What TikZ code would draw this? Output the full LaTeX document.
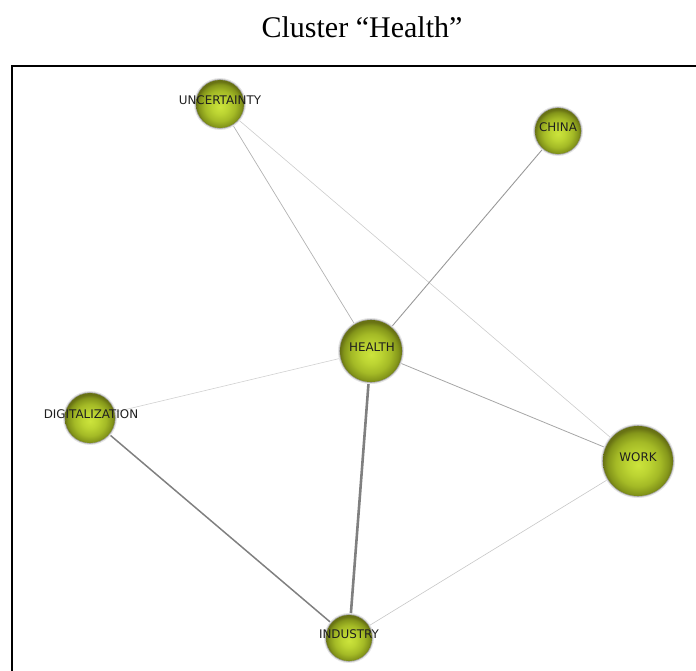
\documentclass[tikz,border=0pt]{standalone}
\usepackage{fontspec}
\setmainfont{Liberation Serif}
\newfontfamily\labelfont{DejaVu Sans}
\definecolor{ballhi}{RGB}{204,228,60}
\definecolor{ballmid}{RGB}{188,212,50}
\definecolor{ballouter}{RGB}{164,186,38}
\definecolor{balledge}{RGB}{132,150,26}
\definecolor{ballrim}{RGB}{104,114,20}
% the circle's edge lies at 25bp of the shading
\pgfdeclareradialshading{nodeball}{\pgfpoint{0bp}{-3bp}}{%
  color(0bp)=(ballhi); color(8bp)=(ballmid); color(16bp)=(ballouter);
  color(22bp)=(balledge); color(25bp)=(ballrim); color(50bp)=(ballrim)}
\tikzset{
  term/.style={circle, minimum size=#1, inner sep=0pt, shading=nodeball},
  halo/.style={fill=black!#1},
  tlabel/.style={font=\labelfont\fontsize{11.9}{12}\selectfont, text=black!88,
    inner sep=0pt, anchor=center},
  link/.style={line cap=round},
}
\begin{document}
\begin{tikzpicture}[x=1pt,y=-1pt]
\useasboundingbox (0,0) rectangle (696,671);
\node[font=\fontsize{30}{34}\selectfont] (title) at (362,27) {Cluster “Health”};
\begin{scope}
  \clip (0,0) rectangle (696,671);
  \draw[line width=2pt] (12,690) -- (12,66) -- (710,66);
\end{scope}
% term positions
\coordinate (cU) at (220,104);
\coordinate (cC) at (558,131);
\coordinate (cH) at (371,351);
\coordinate (cD) at (90,418);
\coordinate (cW) at (638,461);
\coordinate (cI) at (349,638);
% links, drawn beneath the circles
\draw[link, line width=0.7pt, black!30] (cU) -- (cH);
\draw[link, line width=0.6pt, black!20] (cU) -- (cW);
\draw[link, line width=0.9pt, black!40] (cC) -- (cH);
\draw[link, line width=0.6pt, black!18] (cH) -- (cD);
\draw[link, line width=0.8pt, black!35] (cH) -- (cW);
\draw[link, line width=2.6pt, black!50] (cH) -- (cI);
\draw[link, line width=1.5pt, black!50] (cD) -- (cI);
\draw[link, line width=0.6pt, black!22] (cW) -- (cI);
% soft shadows round each circle
\foreach \p/\s in {cU/48, cC/46, cH/62, cD/50, cW/70, cI/46}{
  \fill[halo=10] (\p) circle ({\s/2+2});
  \fill[halo=35] (\p) circle ({\s/2+0.8});
}
\node[term=48pt] (U) at (cU) {};
\node[term=46pt] (C) at (cC) {};
\node[term=62pt] (H) at (cH) {};
\node[term=50pt] (D) at (cD) {};
\node[term=70pt] (W) at (cW) {};
\node[term=46pt] (I) at (cI) {};
% labels
\node[tlabel] (lU) at (220,100) {UNCERTAINTY};
\node[tlabel] (lC) at (558,127) {CHINA};
\node[tlabel] (lH) at (372,347) {HEALTH};
\node[tlabel] (lD) at (91,414) {DIGITALIZATION};
\node[tlabel] (lW) at (638,457) {WORK};
\node[tlabel] (lI) at (349,634) {INDUSTRY};
\end{tikzpicture}
\end{document}
